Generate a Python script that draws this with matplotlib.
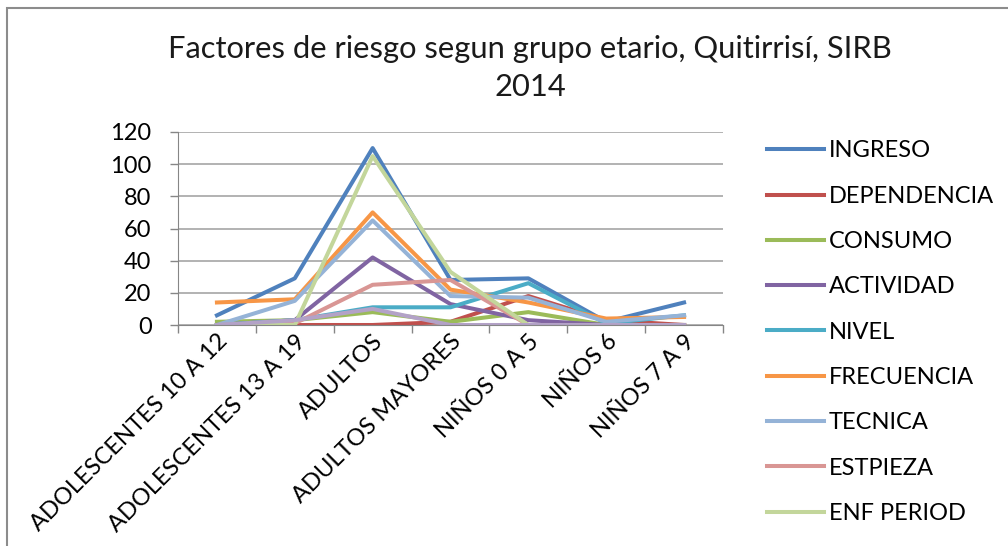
import matplotlib
matplotlib.use('Agg')
import matplotlib.pyplot as plt
from matplotlib.patches import Rectangle

plt.rcParams['font.family'] = ['Lato', 'DejaVu Sans']

grupos = ['ADOLESCENTES 10 A 12', 'ADOLESCENTES 13 A 19', 'ADULTOS',
          'ADULTOS MAYORES', 'NIÑOS 0 A 5', 'NIÑOS 6', 'NIÑOS 7 A 9']

ingreso     = [6, 29, 110, 28, 29, 2, 14]
dependencia = [0, 0, 0, 2, 18, 3, 0]
consumo     = [2, 3, 8, 2, 8, 0, 0]
actividad   = [0, 3, 42, 13, 3, 0, 0]
nivel       = [0, 3, 11, 11, 26, 1, 6]
frecuencia  = [14, 16, 70, 22, 14, 4, 5]
tecnica     = [0, 15, 65, 18, 17, 2, 6]
estpieza    = [0, 1, 25, 28, 0, 0, 0]
enf_period  = [0, 0, 105, 33, 0, 0, 0]
otro        = [0, 3, 10, 0, 0, 0, 0]   # serie 10, fuera de la leyenda recortada

series = [('INGRESO', ingreso, '#4F81BD'),
          ('DEPENDENCIA', dependencia, '#C0504D'),
          ('CONSUMO', consumo, '#9BBB59'),
          ('ACTIVIDAD', actividad, '#8064A2'),
          ('NIVEL', nivel, '#4BACC6'),
          ('FRECUENCIA', frecuencia, '#F79646'),
          ('TECNICA', tecnica, '#95B3D7'),
          ('ESTPIEZA', estpieza, '#D99694'),
          ('ENF PERIOD', enf_period, '#C3D69B'),
          ('_nolegend_', otro, '#B3A2C7')]

fig = plt.figure(figsize=(10.08, 5.46), dpi=100)
fig.patches.append(Rectangle((7/1008, -0.1), 1.2, 1 - 8/546 + 0.1, transform=fig.transFigure,
                             fill=False, edgecolor='#8c8c8c', linewidth=1.5))

ax = fig.add_axes([178/1008, 1 - 325/546, (723-178)/1008, (325-132)/546])
x = list(range(len(grupos)))
handles = []
for nombre, vals, col in series:
    ln, = ax.plot(x, vals, color=col, linewidth=2.9, label=nombre)
    if not nombre.startswith('_'):
        handles.append(ln)

ax.set_xlim(-0.5, len(grupos) - 0.5)
ax.set_ylim(0, 120)
ax.set_yticks(range(0, 121, 20))
ax.set_xticks(x)
ax.set_xticklabels(grupos, rotation=45, ha='right', rotation_mode='anchor', fontsize=17)
ax.set_xticks([i - 0.5 for i in range(len(grupos) + 1)], minor=True)
ax.tick_params(axis='x', which='major', length=0, pad=4)
ax.tick_params(axis='x', which='minor', length=6, color='#868686', width=1)
ax.tick_params(axis='y', length=6, color='#868686', width=1, labelsize=17, pad=13)
ax.yaxis.grid(True, color='#a6a6a6', linewidth=1.2)
ax.set_axisbelow(True)
for s in ['top', 'right']:
    ax.spines[s].set_visible(False)
ax.spines['left'].set_color('#868686')
ax.spines['bottom'].set_color('#868686')

fig.text(530/1008, 1 - 68/546, 'Factores de riesgo segun grupo etario, Quitirrisí, SIRB\n2014',
         ha='center', va='center', fontsize=22.2, linespacing=1.45, color='#1a1a1a')

leg = fig.legend(handles=handles, loc='upper left', bbox_to_anchor=(758/1008, 1 - 131/546),
                 frameon=False, fontsize=17, handlelength=2.4, handletextpad=0.2,
                 labelspacing=1.03, borderaxespad=0)

fig.savefig('out.png', dpi=100)
